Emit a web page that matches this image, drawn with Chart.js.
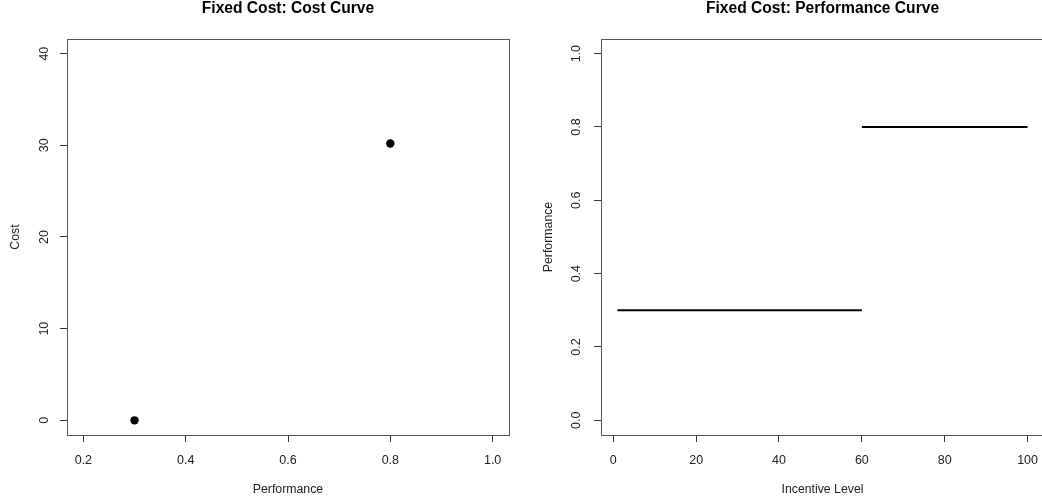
<!DOCTYPE html>
<html>
<head>
<meta charset="utf-8">
<script src="https://cdn.jsdelivr.net/npm/chart.js@4/dist/chart.umd.min.js"></script>
<style>
  html, body { margin: 0; padding: 0; background: #fff; overflow: hidden; }
  #wrap { position: relative; width: 1042px; height: 504px; overflow: hidden; }
  #leftBox { position: absolute; left: 0; top: 0; }
  #rightBox { position: absolute; left: 521px; top: 0; }
</style>
</head>
<body>
<div id="wrap">
  <div id="leftBox"><canvas id="costChart" width="521" height="504"></canvas></div>
  <div id="rightBox"><canvas id="perfChart" width="540" height="504"></canvas></div>
</div>
<script>
// cost curve points
const costPerf = [0.3, 0.8];
const costValues = [0, 30.2];
const costXTicks = [0.2, 0.4, 0.6, 0.8, 1.0];
const costYTicks = [0, 10, 20, 30, 40];

// performance curve segments
const lowIncentive = [1, 60];
const lowPerf = [0.3, 0.3];
const highIncentive = [60, 100];
const highPerf = [0.8, 0.8];
const perfXTicks = [0, 20, 40, 60, 80, 100];
const perfYTicks = [0, 0.2, 0.4, 0.6, 0.8, 1.0];

Chart.defaults.font.family = "'Liberation Sans', Arial, sans-serif";
Chart.defaults.font.size = 12;
Chart.defaults.color = '#222';

// R style box round the plot region
const boxPlugin = {
  id: 'box',
  afterDraw(chart) {
    const a = chart.chartArea;
    const ctx = chart.ctx;
    ctx.save();
    ctx.strokeStyle = '#555';
    ctx.lineWidth = 1;
    ctx.strokeRect(Math.round(a.left) + 0.5, Math.round(a.top) + 0.5,
                   Math.round(a.right - a.left), Math.round(a.bottom - a.top));
    ctx.restore();
  }
};

function toPoints(xs, ys) {
  return xs.map(function(x, i) { return {x: x, y: ys[i]}; });
}

function fixedTicks(list) {
  return function(scale) {
    scale.ticks = list.map(function(v) { return {value: v}; });
  };
}

function xAxis(title, min, max, ticks, digits) {
  return {
    type: 'linear',
    min: min,
    max: max,
    afterBuildTicks: fixedTicks(ticks),
    afterFit: function(s) { s.height = 69; },
    border: { display: false },
    grid: { drawOnChartArea: false, drawTicks: true, tickLength: 7, color: '#333' },
    ticks: {
      padding: 11,
      color: '#222',
      font: { size: 12.5 },
      callback: function(v) { return digits ? v.toFixed(digits) : String(v); }
    },
    title: { display: true, text: title, color: '#222', padding: 7, font: { size: 12.3 } }
  };
}

function yAxis(title, min, max, ticks, digits, width, titlePad) {
  return {
    type: 'linear',
    min: min,
    max: max,
    afterBuildTicks: fixedTicks(ticks),
    afterFit: function(s) { s.width = width; },
    border: { display: false },
    grid: { drawOnChartArea: false, drawTicks: true, tickLength: 7, color: '#333' },
    ticks: {
      padding: 8.5,
      minRotation: 90,
      maxRotation: 90,
      crossAlign: 'center',
      color: '#222',
      font: { size: 12.5 },
      callback: function(v) { return digits ? v.toFixed(digits) : String(v); }
    },
    title: { display: true, text: title, color: '#222', padding: titlePad, font: { size: 12.3 } }
  };
}

function titleOpts(text) {
  return {
    display: true,
    text: text,
    fullSize: false,
    color: '#000',
    font: { size: 15.6, weight: 'bold', lineHeight: 1.07 },
    padding: { top: 0, bottom: 22.3 }
  };
}

new Chart(document.getElementById('costChart'), {
  type: 'scatter',
  data: {
    datasets: [{
      data: toPoints(costPerf, costValues),
      backgroundColor: '#000',
      borderWidth: 0,
      pointRadius: 4.2
    }]
  },
  options: {
    responsive: false,
    animation: false,
    devicePixelRatio: 1,
    layout: { padding: { left: 0, top: 0, right: 12, bottom: 0 } },
    plugins: {
      legend: { display: false },
      tooltip: { enabled: false },
      title: titleOpts('Fixed Cost: Cost Curve')
    },
    scales: {
      x: xAxis('Performance', 0.168, 1.032, costXTicks, 1),
      y: yAxis('Cost', -1.6, 41.6, costYTicks, 0, 67, 8)
    }
  },
  plugins: [boxPlugin]
});

new Chart(document.getElementById('perfChart'), {
  type: 'scatter',
  data: {
    datasets: [{
      data: toPoints(lowIncentive, lowPerf),
      showLine: true,
      borderColor: '#000',
      borderWidth: 2,
      pointRadius: 0
    }, {
      data: toPoints(highIncentive, highPerf),
      showLine: true,
      borderColor: '#000',
      borderWidth: 2,
      pointRadius: 0
    }]
  },
  options: {
    responsive: false,
    animation: false,
    devicePixelRatio: 1,
    layout: { padding: { left: 0, top: 0, right: 17, bottom: 0 } },
    plugins: {
      legend: { display: false },
      tooltip: { enabled: false },
      title: titleOpts('Fixed Cost: Performance Curve')
    },
    scales: {
      x: xAxis('Incentive Level', -2.96, 103.96, perfXTicks, 0),
      y: yAxis('Performance', -0.04, 1.04, perfYTicks, 1, 80, 20)
    }
  },
  plugins: [boxPlugin]
});
</script>
</body>
</html>
